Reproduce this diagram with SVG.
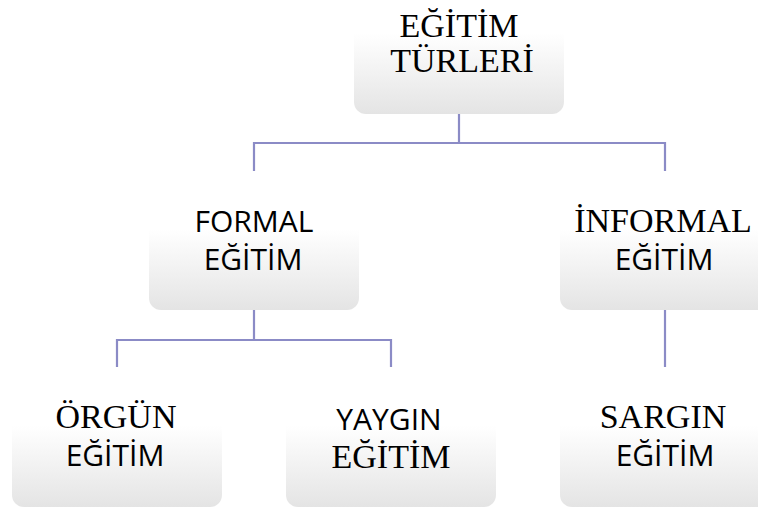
<svg xmlns="http://www.w3.org/2000/svg" width="758" height="508" viewBox="0 0 758 508">
<defs>
<linearGradient id="g" x1="0" y1="0" x2="0" y2="1">
<stop offset="0" stop-color="#ffffff"/>
<stop offset="0.42" stop-color="#ffffff"/>
<stop offset="1" stop-color="#e4e4e4"/>
</linearGradient>
</defs>
<style>
.box{fill:url(#g);}
.serif{font-family:"Liberation Serif","Times New Roman",serif;font-size:34px;fill:#000;text-anchor:middle;}
.sans{font-family:"Open Sans","Liberation Sans",sans-serif;font-size:30px;fill:#000;text-anchor:middle;}
.conn{fill:none;stroke:#8b8bc6;stroke-width:2.2;}
</style>
<rect width="758" height="508" fill="#ffffff"/>
<g id="connectors">
<path class="conn" d="M459,114 V143 M254,171 V143 H665 V171"/>
<path class="conn" d="M254,310 V340 M117,367 V340 H391 V367"/>
<path class="conn" d="M665,310 V367"/>
</g>
<g id="egitim-turleri">
<rect class="box" x="354" y="-25" width="210" height="139" rx="12"/>
<text class="serif" x="459" y="37">EĞİTİM</text>
<text class="serif" x="462" y="72">TÜRLERİ</text>
</g>
<g id="formal-egitim">
<rect class="box" x="149" y="171" width="210" height="139" rx="12"/>
<text class="sans" x="254" y="232">FORMAL</text>
<text class="sans" x="253" y="270">EĞİTİM</text>
</g>
<g id="informal-egitim">
<rect class="box" x="560" y="171" width="210" height="139" rx="12"/>
<text class="serif" x="663" y="232">İNFORMAL</text>
<text class="sans" x="664" y="270">EĞİTİM</text>
</g>
<g id="orgun-egitim">
<rect class="box" x="12" y="367" width="210" height="140" rx="12"/>
<text class="serif" x="116" y="428">ÖRGÜN</text>
<text class="sans" x="115" y="466">EĞİTİM</text>
</g>
<g id="yaygin-egitim">
<rect class="box" x="286" y="367" width="210" height="140" rx="12"/>
<text class="sans" x="389" y="430">YAYGIN</text>
<text class="serif" x="391" y="468">EĞİTİM</text>
</g>
<g id="sargin-egitim">
<rect class="box" x="560" y="367" width="210" height="140" rx="12"/>
<text class="serif" x="663" y="428">SARGIN</text>
<text class="sans" x="665" y="466">EĞİTİM</text>
</g>
</svg>
